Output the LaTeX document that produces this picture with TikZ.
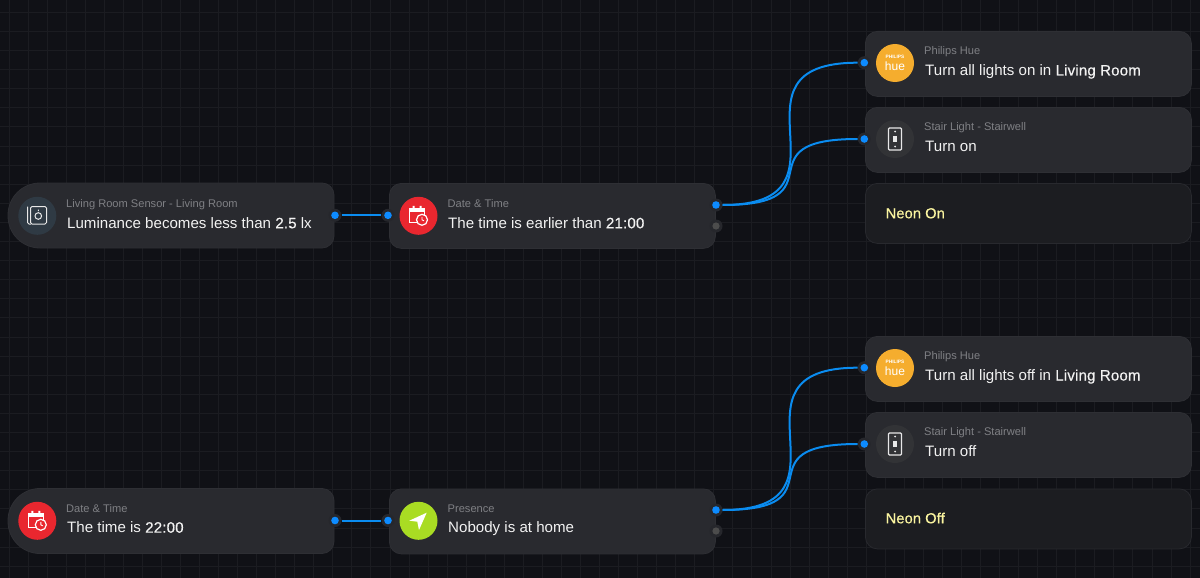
\documentclass[tikz,border=0pt]{standalone}
\usepackage{fontspec}
\setmainfont{Liberation Sans}
\newfontfamily\medfont[FakeBold=0.5,LetterSpace=1]{Liberation Sans}
\definecolor{canvasbg}{HTML}{101116}
\definecolor{gridcol}{HTML}{1B1C21}
\definecolor{cardfill}{HTML}{292A2F}
\definecolor{cardedge}{HTML}{2E2F34}
\definecolor{idlefill}{HTML}{1C1D21}
\definecolor{idleedge}{HTML}{28292E}
\definecolor{subcol}{HTML}{7F8084}
\definecolor{maincol}{HTML}{F2F2F2}
\definecolor{neoncol}{HTML}{FBF5A0}
\definecolor{wirecol}{HTML}{0A8CF0}
\definecolor{dotcol}{HTML}{0D8BFF}
\definecolor{halocol}{HTML}{26272C}
\definecolor{iconcol}{HTML}{E8E8E8}
\definecolor{timered}{HTML}{E9272F}
\definecolor{huecol}{HTML}{F5AD2E}
\definecolor{homecol}{HTML}{A9DC23}
\definecolor{sensorbg}{HTML}{2F3A44}
\definecolor{switchbg}{HTML}{323336}
\tikzset{
  gridline/.style={gridcol,line width=1pt},
  card/.style={draw=cardedge,fill=cardfill,rounded corners=12pt,line width=0.8pt,
    minimum width=326pt,minimum height=65pt,anchor=north west,inner sep=0pt},
  idlecard/.style={card,draw=idleedge,fill=idlefill,minimum height=60pt},
  subtext/.style={anchor=base west,inner sep=0pt,text=subcol,font=\fontsize{11.1pt}{12pt}\selectfont},
  maintext/.style={anchor=base west,inner sep=0pt,text=maincol,font=\fontsize{15.1pt}{18pt}\selectfont},
  neontext/.style={anchor=base west,inner sep=0pt,text=neoncol,font=\fontsize{14.6pt}{17pt}\medfont},
  badge/.style={circle,minimum size=38pt,inner sep=0pt},
  port/.style={circle,fill=halocol,minimum size=13pt,inner sep=0pt,
    path picture={\fill[dotcol] (path picture bounding box.center) circle (3.8pt);}},
  idleport/.style={port,path picture={\fill[gray!60!black] (path picture bounding box.center) circle (3.6pt);}},
  wire/.style={wirecol,line width=2pt},
  calendar/.pic={
    \draw[white,line width=1.2pt] (-9,-7) rectangle (6,7);
    \fill[white] (-9,-8) rectangle (6,-4);
    \fill[white] (-6,-10) rectangle (-4,-7) (1,-10) rectangle (3,-7);
    \draw[white,fill=timered,line width=1.2pt] (3.5,4) circle (5.5pt);
    \draw[white,line width=0.9pt] (3.5,1) -- (3.5,4) -- (5.5,5);
  },
  huemark/.pic={
    \node[text=white,font=\fontsize{4.8pt}{5pt}\selectfont\bfseries] (-brand) at (0,-6) {PHILIPS};
    \node[text=white,font=\fontsize{12pt}{14pt}\selectfont] (-word) at (0,3.5) {hue};
  },
  wallswitch/.pic={
    \draw[iconcol,line width=1.1pt,rounded corners=1pt] (-6.5,-11) rectangle (6.5,11);
    \fill[iconcol] (0,-7.5) circle (1pt) (0,7.5) circle (1pt);
    \fill[iconcol] (-2,-3) rectangle (2,3);
  },
}

\begin{document}
\begin{tikzpicture}[x=1pt,y=-1pt]

\useasboundingbox (0,0) rectangle (1200,578);
\fill[canvasbg] (0,0) rectangle (1200,578);

\foreach \i in {0,...,62}
  \draw[gridline] ({9+19.05*\i},0) -- ({9+19.05*\i},578);
\foreach \j in {0,...,29}
  \draw[gridline] (0,{12.3+19.1*\j}) -- (1200,{12.3+19.1*\j});

% upper rule
\draw[draw=cardedge,fill=cardfill,line width=0.8pt] (100,183) [rounded corners=32pt] -- (8,183) -- (8,248) -- (100,248)
  [rounded corners=12pt] -- (334,248) -- (334,183) -- cycle;
\node[card] (timecard) at (389,183) {};
\node[card] (huecard) at (865,31) {};
\node[card] (stepcard) at (865,107) {};
\node[idlecard] (neoncard) at (865,183) {};

\node[badge,fill=sensorbg] (sensorbadge) at (37.3,215.8) {};
\draw[iconcol,line width=1pt,rounded corners=1.5pt] (30.5,206.5) rectangle (46.5,224);
\draw[iconcol,line width=1pt,rounded corners=1.5pt] (27.5,206.5) -- (27.5,224) -- (31,224);
\draw[iconcol,line width=1pt] (38.3,216) circle (3.3pt) (38.3,209.5) -- (38.3,211);
\node[subtext] (sensorsub) at (66,207.3) {Living Room Sensor - Living Room};
\node[maintext] (sensormain) at (67,228.3) {Luminance becomes less than {\medfont 2.5} lx};

\node[badge,fill=timered] (timebadge) at (418.5,215.8) {};
\pic at (timebadge) {calendar};
\node[subtext] (timesub) at (447.5,207.3) {Date \& Time};
\node[maintext] (timemain) at (448,228.3) {The time is earlier than {\medfont 21:00}};

\node[badge,fill=huecol] (huebadge) at (895,63) {};
\pic (huelogo) at (huebadge) {huemark};
\node[subtext] (huesub) at (924,54.5) {Philips Hue};
\node[maintext] (huemain) at (925,75.5) {Turn all lights on in {\medfont Living Room}};

\node[badge,fill=switchbg] (stepbadge) at (895,139) {};
\pic at (stepbadge) {wallswitch};
\node[subtext] (stepsub) at (924,130.7) {Stair Light - Stairwell};
\node[maintext] (stepmain) at (925,151.7) {Turn on};

\node[neontext] (neonon) at (885.5,218.3) {Neon On};

\node[port] (sensorout) at (335,215.3) {};
\node[port] (timein) at (388,215.3) {};
\node[port] (timeyes) at (716,205) {};
\node[idleport] (timeno) at (716,226) {};
\node[port] (huein) at (864.3,62.7) {};
\node[port] (stepin) at (864.3,139) {};

\draw[wire] (sensorout) -- (timein);
\draw[wire] (timeyes.east) .. controls +(142,0) and +(-142,0) .. (huein.west);
\draw[wire] (timeyes.east) .. controls +(120,0) and +(-120,0) .. (stepin.west);

% lower rule
\draw[draw=cardedge,fill=cardfill,line width=0.8pt] (100,488.5) [rounded corners=32pt] -- (8,488.5) -- (8,553.5) -- (100,553.5)
  [rounded corners=12pt] -- (334,553.5) -- (334,488.5) -- cycle;
\node[card] (homecard) at (389,488.5) {};
\node[card] (offhuecard) at (865,336) {};
\node[card] (offstepcard) at (865,412) {};
\node[idlecard] (offneoncard) at (865,488.5) {};

\node[badge,fill=timered] (startbadge) at (37.3,520.8) {};
\pic at (startbadge) {calendar};
\node[subtext] (startsub) at (66,512.3) {Date \& Time};
\node[maintext] (startmain) at (67,532.7) {The time is {\medfont 22:00}};

\node[badge,fill=homecol] (homebadge) at (418.5,520.8) {};
\fill[white] (426.7,512.7) -- (409.3,520.7) -- (417.3,521.7) -- (419,530) -- cycle;
\node[subtext] (homesub) at (447.5,512.3) {Presence};
\node[maintext] (homemain) at (448,532.7) {Nobody is at home};

\node[badge,fill=huecol] (offhuebadge) at (895,368) {};
\pic (offhuelogo) at (offhuebadge) {huemark};
\node[subtext] (offhuesub) at (924,359.5) {Philips Hue};
\node[maintext] (offhuemain) at (925,380.5) {Turn all lights off in {\medfont Living Room}};

\node[badge,fill=switchbg] (offstepbadge) at (895,444) {};
\pic at (offstepbadge) {wallswitch};
\node[subtext] (offstepsub) at (924,435.7) {Stair Light - Stairwell};
\node[maintext] (offstepmain) at (925,456.7) {Turn off};

\node[neontext] (neonoff) at (885.5,523.3) {Neon Off};

\node[port] (startout) at (335,520.5) {};
\node[port] (homein) at (388,520.5) {};
\node[port] (homeyes) at (716,510) {};
\node[idleport] (homeno) at (716,531) {};
\node[port] (offhuein) at (864.3,367.7) {};
\node[port] (offstepin) at (864.3,444) {};

\draw[wire] (startout) -- (homein);
\draw[wire] (homeyes.east) .. controls +(142,0) and +(-142,0) .. (offhuein.west);
\draw[wire] (homeyes.east) .. controls +(120,0) and +(-120,0) .. (offstepin.west);

\end{tikzpicture}
\end{document}
